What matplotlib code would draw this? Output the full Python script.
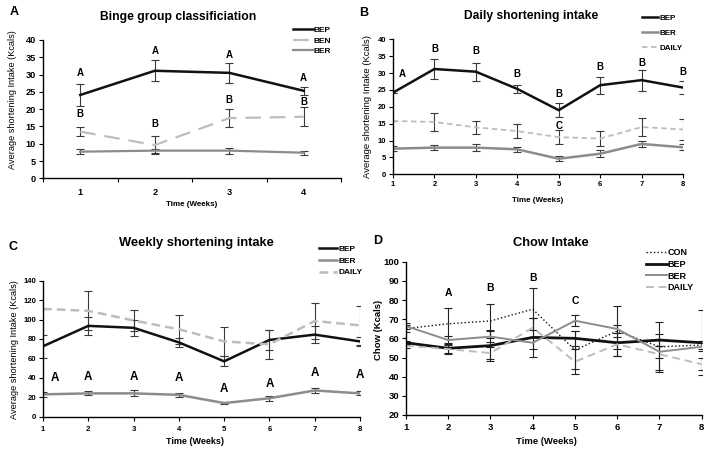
import matplotlib
matplotlib.use("Agg")
import matplotlib.pyplot as plt

plt.rcParams['font.family'] = ['Liberation Sans', 'DejaVu Sans']

W, H = 713, 455

# ---- Panel A: binge group classification ----
weeks_a = [1, 2, 3, 4]
a_bep = [24.1, 31.1, 30.5, 25.3]
a_bep_err = [3.1, 3.1, 2.8, 1.2]
a_ben = [13.5, 9.6, 17.4, 17.8]
a_ben_err = [1.2, 2.5, 2.5, 2.7]
a_ber = [7.7, 8.0, 8.0, 7.4]
a_ber_err = [0.8, 0.6, 0.9, 0.6]
a_top_letters = ['A', 'A', 'A', 'A']
a_top_y = [30.5, 36.9, 35.7, 28.9]
a_mid_letters = ['B', 'B', 'B', 'B']
a_mid_y = [18.6, 15.6, 22.6, 22.2]

# ---- Panel B: daily shortening intake ----
weeks = [1, 2, 3, 4, 5, 6, 7, 8]
b_bep = [24.2, 31.2, 30.4, 25.3, 19.0, 26.4, 27.9, 25.7]
b_bep_err = [0, 3.0, 2.7, 1.3, 2.0, 2.5, 3.1, 2.0]
b_ber = [7.6, 7.9, 7.9, 7.4, 4.6, 6.1, 9.0, 8.0]
b_ber_err = [0.7, 0.8, 1.0, 0.7, 0.7, 1.0, 1.0, 0.9]
b_daily = [15.8, 15.5, 13.9, 12.8, 11.0, 10.6, 14.0, 13.3]
b_daily_err = [0, 2.8, 2.0, 2.0, 2.0, 2.3, 2.6, 3.0]
b_letters = ['A', 'B', 'B', 'B', 'B', 'C', 'B', 'B', 'B']
b_letters_x = [1.22, 2, 3, 4, 5, 5, 6, 7, 8]
b_letters_y = [29.7, 37.2, 36.5, 29.7, 23.8, 14.3, 31.9, 32.9, 30.4]

# ---- Panel C: weekly shortening intake ----
c_bep = [72.5, 93.5, 91.5, 76.5, 57.0, 79.0, 84.5, 77.5]
c_bep_err = [12, 9.5, 8.5, 4.5, 5.0, 10, 9.0, 5.0]
c_ber = [23, 24, 24, 22.5, 14, 19, 27, 24]
c_ber_err = [2.5, 2.0, 3.0, 2.0, 1.0, 2.5, 3.0, 2.0]
c_daily = [111, 109, 99, 90, 77.5, 74.5, 98.5, 94]
c_daily_err = [0, 20, 11, 15, 15, 15, 19, 20]
c_letters = ['A'] * 8
c_letters_x = [1.26, 2, 3, 4, 5, 6, 7, 8]
c_letters_y = [39.5, 41, 41, 40, 28, 34, 44.6, 43]

# ---- Panel D: chow intake ----
d_con = [65.1, 67.6, 69.1, 75.2, 53.9, 63.8, 55.6, 56.5]
d_con_err = [2, 8, 9, 11, 10, 13, 13, 2]
d_bep = [57.7, 54.8, 56.2, 60.5, 60.0, 57.7, 59.1, 57.7]
d_bep_err = [1, 3, 8, 10, 4, 3, 3, 17]
d_ber = [66.4, 59.1, 60.9, 57.7, 69.2, 64.9, 53.0, 55.6]
d_ber_err = [1.5, 2, 3, 3, 3, 2, 3, 2]
d_daily = [56.1, 54.4, 52.3, 65.6, 47.8, 56.9, 51.7, 46.5]
d_daily_err = [1, 2, 3, 5, 6.5, 6, 8, 3]
d_letters = ['A', 'B', 'B', 'C']
d_letters_x = [2, 3, 4, 5]
d_letters_y = [83.8, 86.1, 91.6, 79.6]

BLACK = '#111111'
GRAY = '#8c8c8c'
LIGHT = '#bdbdbd'
ECOL = '#3a3a3a'


def fx(x):
    return x / W


def fy(y):
    return 1 - y / H


def make_axes(left, right, top, bottom):
    ax = fig.add_axes([fx(left), fy(bottom), fx(right - left), (bottom - top) / H])
    ax.spines['top'].set_visible(False)
    ax.spines['right'].set_visible(False)
    ax.spines['left'].set_linewidth(1.0)
    ax.spines['bottom'].set_linewidth(1.0)
    ax.tick_params(direction='out', length=3, width=0.8, labelsize=6.5, pad=2)
    return ax


def series(ax, x, y, err, color, lw, ls='-', dashes=None, ecolor=ECOL):
    line, caps, bars = ax.errorbar(x, y, yerr=err, color=color, lw=lw, ls=ls,
                                   ecolor=ecolor, elinewidth=0.8, capsize=2.7,
                                   capthick=0.8)
    if dashes is not None:
        line.set_dashes(dashes)
    return line


def bold_ticks(ax, size):
    for lab in ax.get_xticklabels() + ax.get_yticklabels():
        lab.set_fontweight('bold')
        lab.set_fontsize(size)


fig = plt.figure(figsize=(W / 100, H / 100), dpi=100)

# ================= Panel A =================
axA = make_axes(43, 341, 40, 178.3)
lA1 = series(axA, weeks_a, a_bep, a_bep_err, BLACK, 1.8)
lA2 = series(axA, weeks_a, a_ben, a_ben_err, LIGHT, 1.6, dashes=(7, 4))
lA3 = series(axA, weeks_a, a_ber, a_ber_err, GRAY, 1.6)
axA.set_xlim(0.5, 4.5)
axA.set_ylim(0, 40)
axA.set_yticks(range(0, 41, 5))
axA.set_xticks(weeks_a)
axA.set_xticks([0.5, 1.5, 2.5, 3.5, 4.5], minor=True)
axA.tick_params(axis='x', which='major', length=0, pad=7)
axA.tick_params(axis='x', which='minor', direction='out', length=3, width=0.8)
bold_ticks(axA, 6.6)
for x, y, t in zip(weeks_a, a_top_y, a_top_letters):
    axA.text(x, y, t, ha='center', va='center', fontsize=7, fontweight='bold')
for x, y, t in zip(weeks_a, a_mid_y, a_mid_letters):
    axA.text(x, y, t, ha='center', va='center', fontsize=7, fontweight='bold')
axA.legend([lA1, lA2, lA3], ['BEP', 'BEN', 'BER'], loc='upper left',
           bbox_to_anchor=(fx(285), fy(19)), bbox_transform=fig.transFigure,
           frameon=False, handlelength=2.4, handletextpad=0.1, labelspacing=0.3,
           prop={'size': 6, 'weight': 'bold'})
fig.text(fx(178), fy(17), 'Binge group classificiation', ha='center', va='center',
         fontsize=8.7, fontweight='bold')
fig.text(fx(13), fy(100), 'Average shortening Intake (Kcals)', rotation=90,
         ha='center', va='center', fontsize=6.6)
fig.text(fx(192), fy(205), 'Time (Weeks)', ha='center', va='center',
         fontsize=5.8, fontweight='bold')
fig.text(fx(14), fy(12), 'A', ha='center', va='center', fontsize=9, fontweight='bold')

# ================= Panel B =================
axB = make_axes(393, 683, 39.3, 174.3)
lB1 = series(axB, weeks, b_bep, b_bep_err, BLACK, 1.8)
lB2 = series(axB, weeks, b_ber, b_ber_err, GRAY, 1.8)
lB3 = series(axB, weeks, b_daily, b_daily_err, LIGHT, 1.3, dashes=(3, 2))
axB.set_xlim(1, 8)
axB.set_ylim(0, 40)
axB.set_yticks(range(0, 41, 5))
axB.set_xticks(weeks)
bold_ticks(axB, 5.5)
axB.tick_params(axis='x', pad=1.5)
for x, y, t in zip(b_letters_x, b_letters_y, b_letters):
    axB.text(x, y, t, ha='center', va='center', fontsize=7, fontweight='bold')
axB.legend([lB1, lB2, lB3], ['BEP', 'BER', 'DAILY'], loc='upper left',
           bbox_to_anchor=(fx(635), fy(7)), bbox_transform=fig.transFigure,
           frameon=False, handlelength=2.0, handletextpad=0.2, labelspacing=0.9,
           prop={'size': 5.8, 'weight': 'bold'})
fig.text(fx(531), fy(16), 'Daily shortening intake', ha='center', va='center',
         fontsize=8.7, fontweight='bold')
fig.text(fx(368), fy(107), 'Average shortening Intake (Kcals)', rotation=90,
         ha='center', va='center', fontsize=6.8)
fig.text(fx(538), fy(201), 'Time (Weeks)', ha='center', va='center',
         fontsize=5.8, fontweight='bold')
fig.text(fx(364), fy(13), 'B', ha='center', va='center', fontsize=9, fontweight='bold')

# ================= Panel C =================
axC = make_axes(43, 360, 280.7, 416.7)
lC1 = series(axC, weeks, c_bep, c_bep_err, BLACK, 1.8)
lC2 = series(axC, weeks, c_ber, c_ber_err, GRAY, 1.8)
lC3 = series(axC, weeks, c_daily, c_daily_err, LIGHT, 1.8, dashes=(3.5, 2))
axC.set_xlim(1, 8)
axC.set_ylim(0, 140)
axC.set_yticks(range(0, 141, 20))
axC.set_xticks(weeks)
bold_ticks(axC, 5.6)
axC.tick_params(axis='x', pad=4)
for x, y, t in zip(c_letters_x, c_letters_y, c_letters):
    axC.text(x, y, t, ha='center', va='center', fontsize=8.4, fontweight='bold')
axC.legend([lC1, lC2, lC3], ['BEP', 'BER', 'DAILY'], loc='upper left',
           bbox_to_anchor=(fx(311), fy(238)), bbox_transform=fig.transFigure,
           frameon=False, handlelength=2.2, handletextpad=0.2, labelspacing=0.45,
           prop={'size': 6, 'weight': 'bold'})
fig.text(fx(196), fy(243), 'Weekly shortening intake', ha='center', va='center',
         fontsize=9.3, fontweight='bold')
fig.text(fx(15), fy(350), 'Average shortening Intake (Kcals)', rotation=90,
         ha='center', va='center', fontsize=6.6)
fig.text(fx(195), fy(441), 'Time (Weeks)', ha='center', va='center',
         fontsize=6.5, fontweight='bold')
fig.text(fx(13), fy(247), 'C', ha='center', va='center', fontsize=9, fontweight='bold')

# ================= Panel D =================
axD = make_axes(406, 701.7, 261.7, 415)
lD1 = series(axD, weeks, d_con, d_con_err, BLACK, 1.0, ls=':', ecolor='#222222')
lD2 = series(axD, weeks, d_bep, d_bep_err, BLACK, 2.0, ecolor='#222222')
lD3 = series(axD, weeks, d_ber, d_ber_err, GRAY, 1.4, ecolor='#222222')
lD4 = series(axD, weeks, d_daily, d_daily_err, LIGHT, 1.4, dashes=(4, 2.5),
             ecolor='#222222')
axD.set_xlim(1, 8)
axD.set_ylim(20, 100)
axD.set_yticks(range(20, 101, 10))
axD.set_xticks(weeks)
bold_ticks(axD, 6.8)
axD.tick_params(axis='x', pad=3)
for x, y, t in zip(d_letters_x, d_letters_y, d_letters):
    axD.text(x, y, t, ha='center', va='center', fontsize=7.5, fontweight='bold')
axD.legend([lD1, lD2, lD3, lD4], ['CON', 'BEP', 'BER', 'DAILY'], loc='upper left',
           bbox_to_anchor=(fx(638), fy(240)), bbox_transform=fig.transFigure,
           frameon=False, handlelength=2.3, handletextpad=0.1, labelspacing=0.3,
           prop={'size': 6.5, 'weight': 'bold'})
fig.text(fx(551), fy(243), 'Chow Intake', ha='center', va='center',
         fontsize=9.3, fontweight='bold')
fig.text(fx(378), fy(330), 'Chow (Kcals)', rotation=90,
         ha='center', va='center', fontsize=6.8, fontweight='bold')
fig.text(fx(546), fy(441), 'Time (Weeks)', ha='center', va='center',
         fontsize=6.8, fontweight='bold')
fig.text(fx(378), fy(241), 'D', ha='center', va='center', fontsize=9, fontweight='bold')

fig.savefig('out.png', dpi=100)
